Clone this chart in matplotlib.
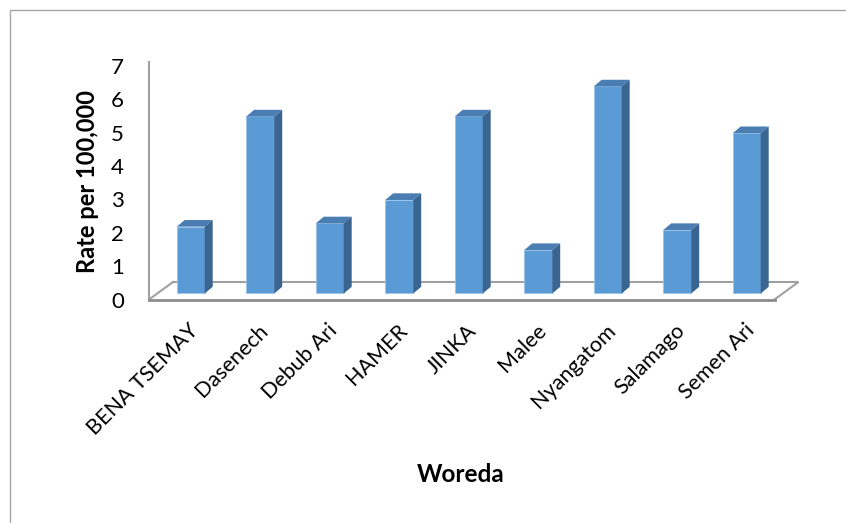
import numpy as np
import matplotlib.pyplot as plt
from matplotlib.patches import Polygon, Rectangle

plt.rcParams['font.family'] = ['Lato', 'DejaVu Sans']

woredas = ['BENA TSEMAY', 'Dasenech', 'Debub Ari', 'HAMER', 'JINKA',
           'Malee', 'Nyangatom', 'Salamago', 'Semen Ari']
rates = [2.0, 5.3, 2.1, 2.8, 5.3, 1.3, 6.2, 1.9, 4.8]
yticks = [0, 1, 2, 3, 4, 5, 6, 7]

front_col = '#5B9BD5'
top_col = '#4A7EB2'
side_col = '#3A6591'
grey = '#a0a0a0'

fig = plt.figure(figsize=(8.46, 5.23), dpi=100)
# chart area border
fig.patches.append(Rectangle((10 / 846, -0.1), 1.2, 1 - 10 / 523 + 0.1,
                             transform=fig.transFigure, fill=False,
                             edgecolor='#a6a6a6', lw=1.0))

ax = fig.add_axes([149 / 846, (523 - 299.5) / 523, 9.4 * 69.5 / 846, 237.1 / 523])
ax.set_xlim(-0.5, 8.9)
ax.set_ylim(0, 7.1)

x = np.arange(len(woredas))
n = len(woredas)

# floor of the 3d box
fdx, fdy = 0.345, 0.524
ax.plot([-0.5 + fdx, n - 0.5 + fdx, n - 0.5], [fdy, fdy, 0], color=grey, lw=1.5,
        zorder=1, clip_on=False, solid_joinstyle='miter')
ax.plot([-0.5, -0.5 + fdx], [0, fdy], color=grey, lw=1.5, zorder=1, clip_on=False)
ax.plot([-0.5, n - 0.5], [0, 0], color='#8c8c8c', lw=2, zorder=5, clip_on=False)

# columns: front face, then top and side faces
base = 0.18
w = 0.403
shift = 0.10
ddx, ddy = 0.115, 0.20
ax.bar(x + shift, rates, width=w, bottom=base, color=front_col,
       edgecolor='#9cc3e8', linewidth=0.6, zorder=3)
for xi, v in zip(x, rates):
    x0 = xi + shift - w / 2
    x1 = x0 + w
    top = base + v
    ax.add_patch(Polygon([(x0, top), (x1, top), (x1 + ddx, top + ddy), (x0 + ddx, top + ddy)],
                         closed=True, facecolor=top_col, edgecolor='none', zorder=3))
    ax.add_patch(Polygon([(x1, base), (x1 + ddx, base + ddy), (x1 + ddx, top + ddy), (x1, top)],
                         closed=True, facecolor=side_col, edgecolor='none', zorder=3))

for s in ['top', 'right', 'bottom']:
    ax.spines[s].set_visible(False)
ax.spines['left'].set_color(grey)
ax.spines['left'].set_linewidth(1.5)

ax.set_yticks(yticks)
ax.set_yticklabels([str(t) for t in yticks], fontsize=16)
ax.tick_params(axis='y', length=0, pad=18)

ax.set_xticks(x + 0.065)
ax.set_xticklabels(woredas, rotation=45, ha='right', va='top',
                   rotation_mode='anchor', fontsize=15.5)
ax.tick_params(axis='x', length=0, pad=15)

fig.text(87.5 / 846, 1 - 181.5 / 523, 'Rate per 100,000', rotation=90,
         ha='center', va='center', fontsize=17, fontweight='bold')
fig.text(461 / 846, 1 - 475 / 523, 'Woreda', ha='center', va='center',
         fontsize=17.5, fontweight='bold')

fig.savefig('out.png', dpi=100)
